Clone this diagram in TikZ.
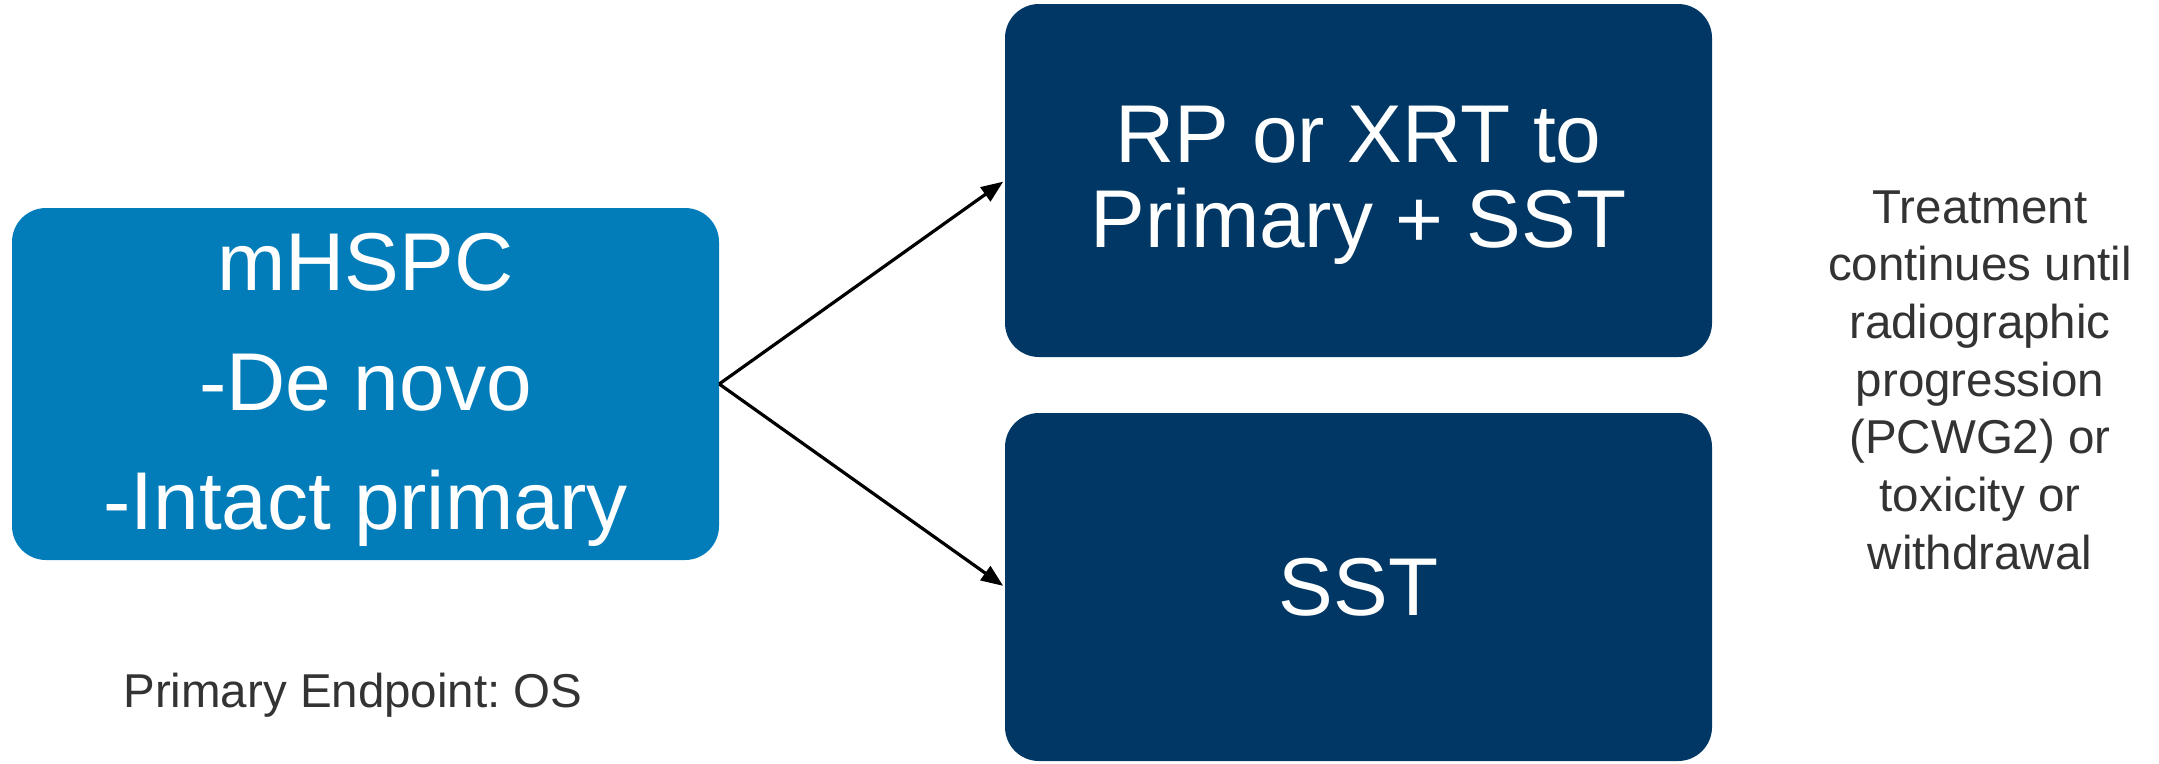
\documentclass[tikz,border=0pt]{standalone}
\usepackage{fontspec}
\setmainfont{Liberation Sans}
\usetikzlibrary{arrows.meta}
\definecolor{lightblue}{HTML}{037DBA}
\definecolor{navy}{HTML}{003764}
\definecolor{txtgray}{HTML}{333333}
\frenchspacing
\begin{document}
\begin{tikzpicture}[x=1pt,y=-1pt,
  box/.style={rounded corners=34pt, inner sep=0pt, align=center, text=white,
              minimum width=707pt},
  arr/.style={line width=3.2pt, -{Triangle[length=22pt,width=17pt]}, shorten >=2pt},
  note/.style={inner sep=0pt, align=center, text=txtgray,
               font=\fontsize{47.5}{57.7}\selectfont}]
\useasboundingbox (0,0) rectangle (2159,763);
\node[box, fill=lightblue, minimum height=352pt,
      font=\fontsize{82}{119}\selectfont] (L) at (365.5,384)
  {\rule{0pt}{69pt}mHSPC\\-De novo\\-Intact primary};
\node[box, fill=navy, minimum height=353pt,
      font=\fontsize{82}{85}\selectfont] (T) at (1358.5,180.5)
  {\rule{0pt}{67pt}RP or XRT to\\Primary + SST};
\node[box, fill=navy, minimum height=348pt,
      font=\fontsize{82}{85}\selectfont] (B) at (1358.5,587)
  {SST};
\draw[arr] (L.east) -- (T.west);
\draw[arr] (L.east) -- (B.west);
\node[note] (N) at (1980,380)
  {Treatment\\continues until\\radiographic\\progression\\(PCWG2) or\\toxicity or\\withdrawal};
\node[note] (E) at (353,695) {Primary Endpoint: OS};
\end{tikzpicture}
\end{document}
